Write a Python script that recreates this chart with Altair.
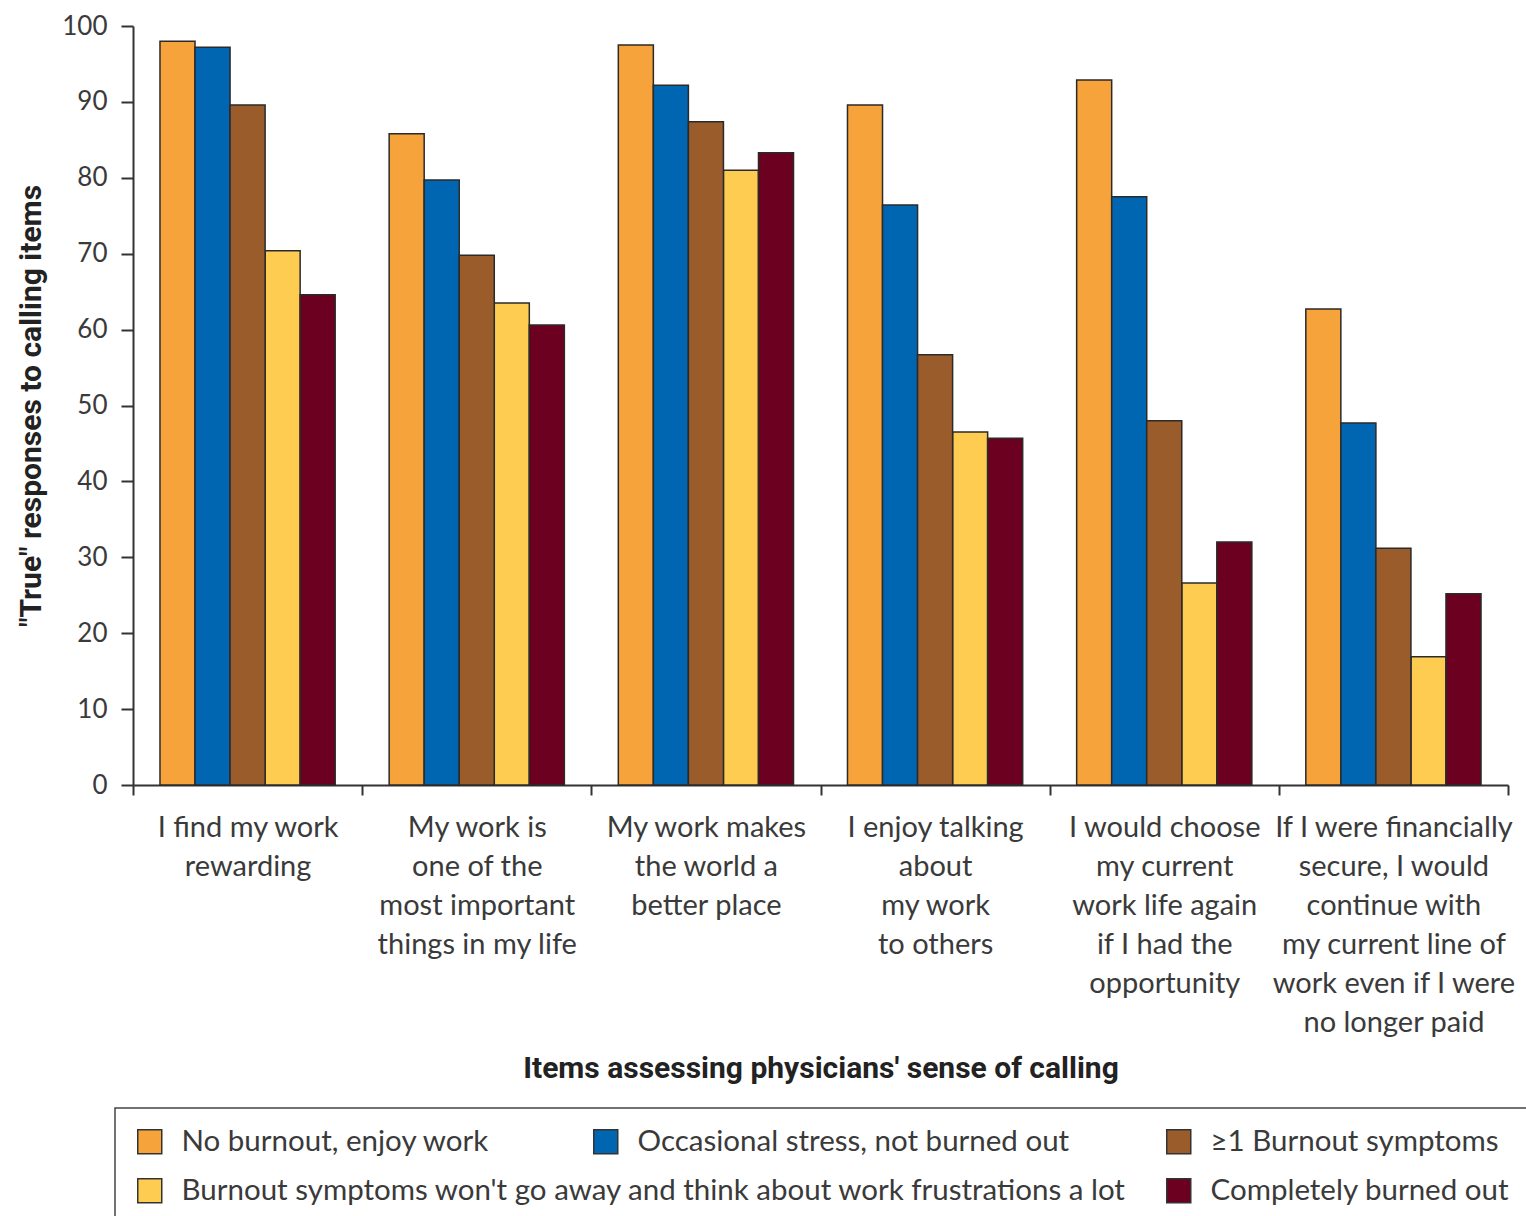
import altair as alt
import pandas as pd

# Survey items (each list holds the label lines shown under the group)
items = [
    ["I find my work", "rewarding"],
    ["My work is", "one of the", "most important", "things in my life"],
    ["My work makes", "the world a", "better place"],
    ["I enjoy talking", "about", "my work", "to others"],
    ["I would choose", "my current", "work life again", "if I had the", "opportunity"],
    ["If I were financially", "secure, I would", "continue with", "my current line of",
     "work even if I were", "no longer paid"],
]

series = [
    "No burnout, enjoy work",
    "Occasional stress, not burned out",
    "≥1 Burnout symptoms",
    "Burnout symptoms won't go away and think about work frustrations a lot",
    "Completely burned out",
]
colors = ["#F6A33B", "#0066B2", "#9B5C2C", "#FFCC52", "#6B0020"]

# Percentage answering "true", one value per item
no_burnout = [98.0, 85.8, 97.5, 89.6, 92.9, 62.7]
occasional_stress = [97.2, 79.7, 92.2, 76.4, 77.5, 47.7]
one_plus_symptoms = [89.6, 69.8, 87.4, 56.7, 48.0, 31.2]
persistent_symptoms = [70.4, 63.5, 81.0, 46.5, 26.6, 16.9]
completely_burned_out = [64.6, 60.6, 83.3, 45.7, 32.0, 25.2]

values_by_series = [no_burnout, occasional_stress, one_plus_symptoms,
                    persistent_symptoms, completely_burned_out]

item_names = ["\n".join(lines) for lines in items]

rows = []
for s, vals in zip(series, values_by_series):
    for name, v in zip(item_names, vals):
        rows.append({"item": name, "series": s, "value": v})
df = pd.DataFrame(rows)

W, H = 1375, 759
LABEL_FONT = "Lato"
TITLE_FONT = "Roboto"
TEXT_COLOR = "#3a3a3a"
LINE_COLOR = "#333333"

x_enc = alt.X(
    "item:N",
    sort=item_names,
    scale=alt.Scale(paddingInner=0, paddingOuter=0),
    axis=alt.Axis(
        title="Items assessing physicians' sense of calling",
        labelExpr="split(datum.label, '\\n')",
        labelAngle=0,
        labelLimit=0,
        labelFont=LABEL_FONT,
        labelFontSize=29,
        labelLineHeight=39,
        labelColor=TEXT_COLOR,
        labelPadding=18,
        tickBand="extent",
        tickSize=10,
        tickWidth=2,
        tickColor=LINE_COLOR,
        domainColor=LINE_COLOR,
        domainWidth=2,
        titleFont=TITLE_FONT,
        titleFontSize=30,
        titleFontWeight="bold",
        titleColor="#222222",
        titlePadding=68,
    ),
)
xoff_enc = alt.XOffset(
    "series:N",
    sort=series,
    scale=alt.Scale(domain=series, paddingInner=0, paddingOuter=0.77),
)
y_enc = alt.Y(
    "value:Q",
    scale=alt.Scale(domain=[0, 100], nice=False),
    axis=alt.Axis(
        title='"True" responses to calling items',
        values=list(range(0, 101, 10)),
        grid=False,
        labelFont=LABEL_FONT,
        labelFontSize=26,
        labelColor=TEXT_COLOR,
        labelPadding=14,
        tickSize=12,
        tickWidth=2,
        tickColor=LINE_COLOR,
        domainColor=LINE_COLOR,
        domainWidth=2,
        titleFont=TITLE_FONT,
        titleFontSize=30,
        titleFontWeight="bold",
        titleColor="#222222",
        titlePadding=15,
    ),
)


def bar_layer(idx, legend_x):
    names = [series[i] for i in idx]
    cols = [colors[i] for i in idx]
    return (
        alt.Chart(df)
        .transform_filter(alt.FieldOneOfPredicate(field="series", oneOf=names))
        .mark_bar(stroke="#2a2a2a", strokeWidth=1.5)
        .encode(
            x=x_enc,
            xOffset=xoff_enc,
            y=y_enc,
            color=alt.Color(
                "series:N",
                sort=names,
                scale=alt.Scale(domain=names, range=cols),
                legend=alt.Legend(
                    title=None,
                    orient="none",
                    legendX=legend_x,
                    legendY=1101,
                    direction="vertical",
                    padding=0,
                    symbolType="square",
                    symbolSize=576,
                    symbolStrokeColor="#333333",
                    symbolStrokeWidth=1.5,
                    labelFont=LABEL_FONT,
                    labelFontSize=29.5,
                    labelColor=TEXT_COLOR,
                    labelLimit=0,
                    labelOffset=17,
                    rowPadding=18,
                ),
            ),
        )
    )


frame = (
    alt.Chart(pd.DataFrame({"box": [1]}))
    .mark_rect(fill=None, stroke="#444444", strokeWidth=1.5)
    .encode(
        x=alt.value(-18),
        x2=alt.value(W + 40),
        y=alt.value(1082),
        y2=alt.value(1240),
    )
)

chart = (
    alt.layer(
        bar_layer([0, 3], 2),
        bar_layer([1], 458),
        bar_layer([2, 4], 1031),
        frame,
    )
    .resolve_scale(color="independent")
    .properties(
        width=W,
        height=H,
        background="white",
        autosize=alt.AutoSizeParams(type="none"),
        padding={"left": 133, "top": 26, "right": 18, "bottom": 431},
    )
    .configure_view(stroke=None)
)

chart.save("out.html", embed_options={"renderer": "svg", "actions": False})
